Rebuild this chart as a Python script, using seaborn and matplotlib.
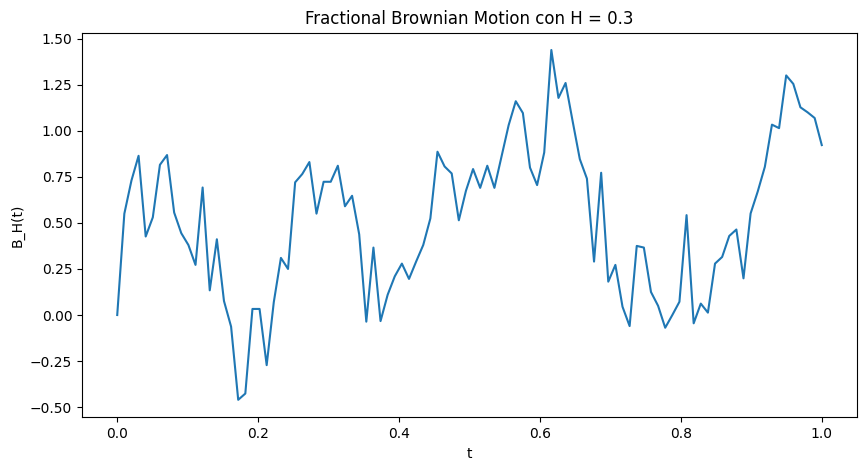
import numpy as np
import pandas as pd
import matplotlib
matplotlib.use("Agg")
import matplotlib.pyplot as plt
import seaborn as sns

n_points = 100
t_values = np.linspace(0.0, 1.0, n_points)
bh_values = [
    0.0, 0.55, 0.73, 0.864, 0.426, 0.53, 0.815, 0.868, 0.556, 0.444,
    0.38, 0.272, 0.692, 0.134, 0.411, 0.076, -0.063, -0.46, -0.426, 0.033,
    0.033, -0.272, 0.07, 0.31, 0.25, 0.72, 0.765, 0.83, 0.55, 0.723,
    0.723, 0.81, 0.59, 0.647, 0.438, -0.036, 0.366, -0.033, 0.11, 0.21,
    0.279, 0.196, 0.29, 0.38, 0.524, 0.886, 0.806, 0.768, 0.514, 0.674,
    0.792, 0.69, 0.81, 0.69, 0.86, 1.03, 1.16, 1.096, 0.80, 0.705,
    0.882, 1.438, 1.178, 1.259, 1.05, 0.846, 0.74, 0.29, 0.772, 0.181,
    0.272, 0.045, -0.06, 0.375, 0.366, 0.125, 0.05, -0.069, 0.0, 0.072,
    0.542, -0.045, 0.062, 0.013, 0.279, 0.315, 0.429, 0.464, 0.199, 0.551,
    0.67, 0.804, 1.033, 1.014, 1.30, 1.254, 1.127, 1.10, 1.069, 0.922,
]

title_text = "Fractional Brownian Motion con H = 0.3"
x_label = "t"
y_label = "B_H(t)"

df = pd.DataFrame({"t": t_values, "B_H": bh_values})

fig = plt.figure(figsize=(8.66, 4.70), dpi=100)
ax = fig.add_axes([82 / 866, 1 - 417.3 / 470, 775 / 866, 384.8 / 470])
sns.lineplot(data=df, x="t", y="B_H", ax=ax, color="#1f77b4", linewidth=1.5)
ax.set_title(title_text, fontsize=12)
ax.set_xlabel(x_label)
ax.set_ylabel(y_label)
ax.set_xticks([0.0, 0.2, 0.4, 0.6, 0.8, 1.0])
ax.set_yticks([-0.5, -0.25, 0.0, 0.25, 0.5, 0.75, 1.0, 1.25, 1.5])
fig.savefig("out.png", dpi=100)
